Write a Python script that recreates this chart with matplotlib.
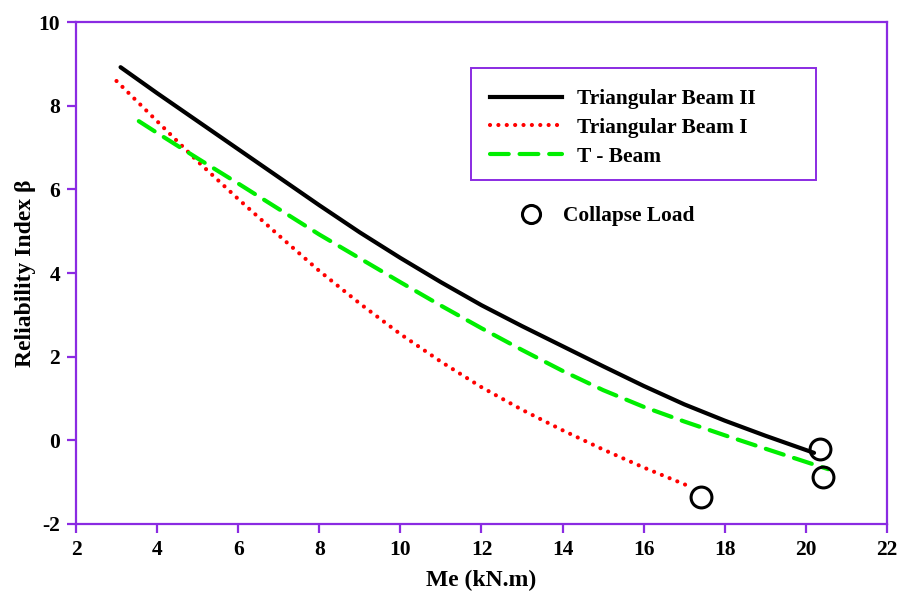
# Reliability index vs applied moment for three beam types

import matplotlib.pyplot as plt
from matplotlib.lines import Line2D
from matplotlib.patches import Rectangle

# Triangular Beam II
tb2_x = [3.1, 4, 5, 6, 7, 8, 9, 10, 11, 12, 13, 14, 15, 16, 17, 18, 19, 20.2]
tb2_y = [8.92, 8.30, 7.63, 6.96, 6.29, 5.62, 4.97, 4.36, 3.78, 3.23, 2.73, 2.25, 1.77, 1.30, 0.86, 0.47, 0.11, -0.30]

# Triangular Beam I
tb1_x = [3.0, 4, 5, 6, 7, 8, 9, 10, 11, 12, 13, 14, 15, 16, 17.1]
tb1_y = [8.59, 7.63, 6.67, 5.77, 4.90, 4.05, 3.27, 2.54, 1.88, 1.27, 0.73, 0.24, -0.22, -0.65, -1.09]

# T - Beam
tb_x = [3.55, 4, 5, 6, 7, 8, 9, 10, 11, 12, 13, 14, 15, 16, 17, 18, 19, 20.55]
tb_y = [7.63, 7.35, 6.74, 6.14, 5.53, 4.92, 4.35, 3.78, 3.22, 2.68, 2.16, 1.66, 1.20, 0.80, 0.45, 0.12, -0.20, -0.69]

# collapse load points
collapse_x = [20.35, 20.42, 17.41]
collapse_y = [-0.21, -0.88, -1.36]

purple = '#8a2be2'
plt.rcParams['font.family'] = 'Liberation Serif'
plt.rcParams['font.weight'] = 'bold'
plt.rcParams['axes.unicode_minus'] = False

fig = plt.figure(figsize=(9.01, 5.92), dpi=100)
ax = fig.add_axes([0.0843, 0.1149, 0.9002, 0.8479])

ax.plot(tb2_x, tb2_y, color='black', lw=3, solid_capstyle='round')
ax.plot(tb1_x, tb1_y, color='red', lw=3, linestyle=(0, (0.01, 2.0)), dash_capstyle='round')
ax.plot(tb_x, tb_y, color='#00ee00', lw=3, linestyle=(0, (4.5, 2.6)), dash_capstyle='round')
ax.plot(collapse_x, collapse_y, linestyle='none', marker='o', markersize=15,
        markerfacecolor='none', markeredgecolor='black', markeredgewidth=2.2)

ax.set_xlim(2, 22)
ax.set_ylim(-2, 10)
ax.set_xticks(range(2, 23, 2))
ax.set_yticks(range(-2, 11, 2))

for s in ax.spines.values():
    s.set_color(purple)
    s.set_linewidth(1.6)
ax.tick_params(direction='out', length=6.5, width=1.6, color=purple,
               labelsize=15.5, pad=5)
for lbl in ax.get_xticklabels() + ax.get_yticklabels():
    lbl.set_fontweight('bold')

ax.set_xlabel('Me (kN.m)', fontsize=17, fontweight='bold', labelpad=7)
ax.set_ylabel('Reliability Index β', fontsize=17, fontweight='bold', labelpad=2)

# legend box drawn separately so its size matches the original
ax.add_patch(Rectangle((0.487, 0.685), 0.4254, 0.2231, transform=ax.transAxes,
                       facecolor='white', edgecolor=purple, lw=1.4, zorder=4))

handles = [
    Line2D([], [], color='black', lw=3),
    Line2D([], [], color='red', lw=3, linestyle=(0, (0.01, 2.0)), dash_capstyle='round'),
    Line2D([], [], color='#00ee00', lw=3, linestyle=(0, (4.5, 2.6)), dash_capstyle='round'),
]
leg = ax.legend(handles, ['Triangular Beam II', 'Triangular Beam I', 'T - Beam'],
                loc='upper left', bbox_to_anchor=(0.4835, 0.9084), frameon=False,
                handlelength=3.4, handletextpad=0.7, borderpad=1.0, labelspacing=0.4,
                prop={'size': 15.4, 'weight': 'bold'}, borderaxespad=0)
leg.set_zorder(5)
ax.add_artist(leg)

leg2 = ax.legend([Line2D([], [], linestyle='none', marker='o', markersize=13,
                         markerfacecolor='none', markeredgecolor='black', markeredgewidth=2.2)],
                 ['Collapse Load'], loc='upper left', bbox_to_anchor=(0.524, 0.65),
                 frameon=False, handletextpad=0.5, prop={'size': 15.4, 'weight': 'bold'},
                 borderaxespad=0)

fig.savefig('out.png', dpi=100)
